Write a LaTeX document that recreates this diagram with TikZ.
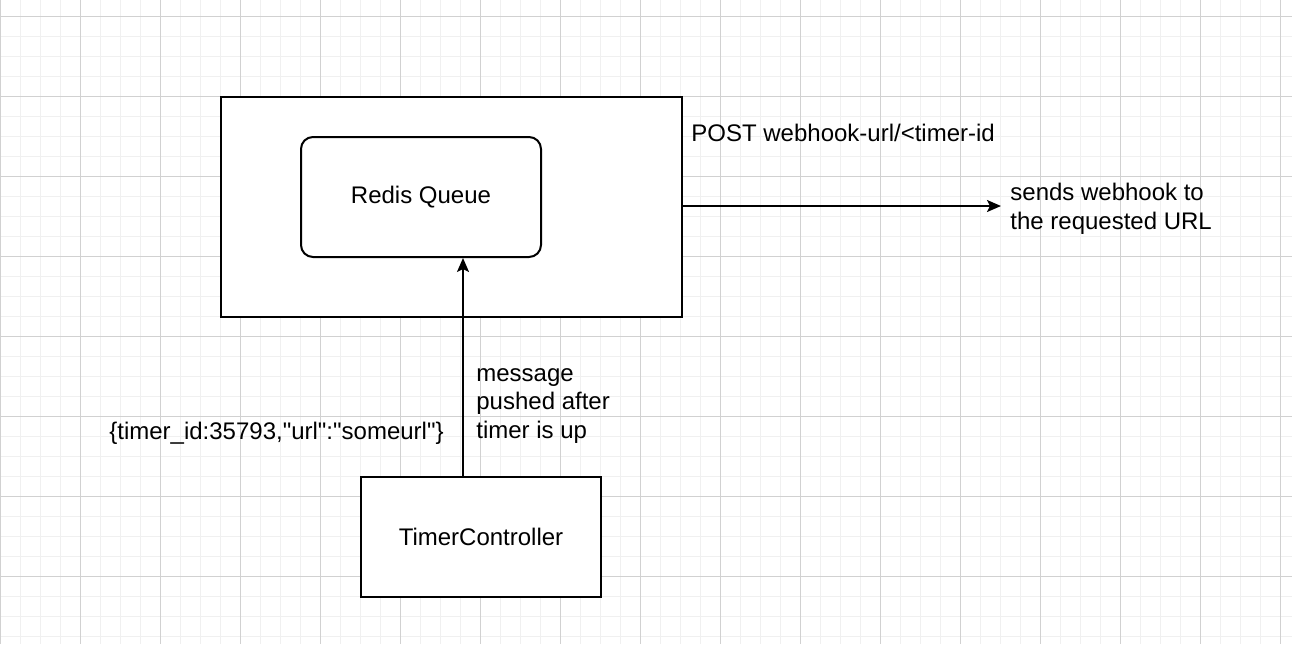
\documentclass[tikz,border=0pt]{standalone}
\usepackage{fontspec}
\setmainfont{Liberation Sans}
\usetikzlibrary{arrows.meta,positioning,calc}

\tikzset{
  block/.style={draw,line width=1pt,fill=white,minimum width=120pt,minimum height=60pt,inner sep=0pt},
  queue/.style={block,rounded corners=6pt},
  lbl/.style={inner sep=0pt,align=left,font=\fontsize{12pt}{14.4pt}\selectfont},
  link/.style={line width=1pt,-{Stealth[length=7pt,width=6pt,inset=1.5pt]}}
}

\begin{document}
\begin{tikzpicture}[x=0.5pt,y=-0.5pt,font=\fontsize{12pt}{14.4pt}\selectfont]
  \useasboundingbox (0,0) rectangle (1292,644);
  % grid
  \foreach \x in {0,20,...,1280}
    \draw[line width=0.5pt,black!6] (\x,0) -- (\x,644);
  \foreach \y in {16,36,...,636}
    \draw[line width=0.5pt,black!6] (0,\y) -- (1292,\y);
  \foreach \x in {0,80,...,1280}
    \draw[line width=0.5pt,black!18] (\x,0) -- (\x,644);
  \foreach \y in {16,96,...,636}
    \draw[line width=0.5pt,black!18] (0,\y) -- (1292,\y);

  % boxes
  \node[block,minimum width=230.5pt,minimum height=110pt] (worker) at (451.5,207) {};
  \node[queue] (redis) at (421,197) {Redis Queue};
  \node[block] (timer) at (481,537) {TimerController};

  % labels
  \node[lbl,anchor=west] (post) at (691,133) {POST webhook-url/<timer-id};
  \node[lbl,anchor=west] (hook) at (1010,209) {sends webhook to\\the requested URL};
  \node[lbl,anchor=west] (msg) at (476,406) {message\\pushed after\\timer is up};
  \node[lbl,anchor=east] (payload) at (444,433) {\{timer\_id:35793,\textquotedbl url\textquotedbl:\textquotedbl someurl\textquotedbl\}};

  % connectors
  \coordinate (pipe) at (463,0);
  \draw[link] (timer.north -| pipe) -- (redis.south -| pipe);
  \draw[link] (worker.east |- 0,206) -- ([xshift=-4.5pt]hook.west |- 0,206);
\end{tikzpicture}
\end{document}
